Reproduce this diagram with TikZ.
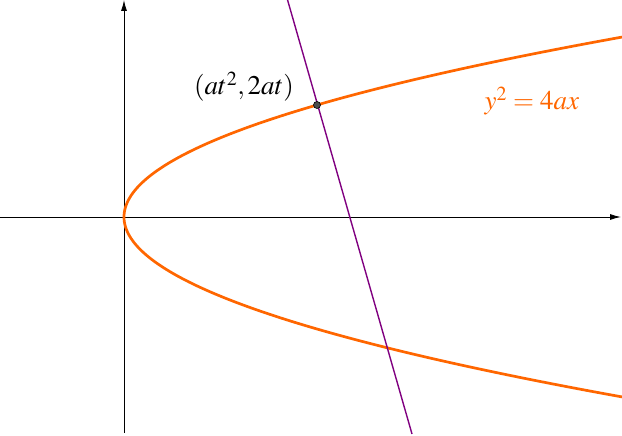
\documentclass[tikz,border=0pt]{standalone}
\usepackage{mathptmx}
\usetikzlibrary{arrows.meta}
\definecolor{parab}{HTML}{FF6600}
\definecolor{normalc}{HTML}{800080}
\tikzset{
  axis/.style={line width=0.9pt, -{Latex[length=11pt,width=6pt]}},
  curve/.style={parab, line width=2.7pt},
  normalline/.style={normalc, line width=1.4pt},
  pt/.style={circle, fill=black!70, draw=black, line width=0.6pt, inner sep=0pt, minimum size=7pt},
  lbl/.style={font=\fontsize{27}{31}\selectfont}
}
\begin{document}
\begin{tikzpicture}[x=1pt,y=1pt]
\useasboundingbox (0,0) rectangle (622,436);
\begin{scope}[shift={(124,219)}]
  \coordinate (xl) at (-124,0);
  \coordinate (xr) at (497,0);
  \coordinate (yb) at (0,-216);
  \coordinate (yt) at (0,217);
  \draw[axis] (xl) -- (xr);
  \draw[axis] (yb) -- (yt);
  \draw[curve] plot[domain=-182:181, samples=200, smooth, variable=\t] ({\t/65*\t},{\t});
  \coordinate (nt) at (163,219);
  \coordinate (nb) at (288,-217);
  \draw[normalline] (nt) -- (nb);
  \node[pt] (P) at (193,112) {};
  \node[lbl, anchor=base] (pl) at (120,122) {$(at^2, 2at)$};
  \node[lbl, anchor=base, text=parab] (el) at (408,107) {$y^2 = 4ax$};
\end{scope}
\end{tikzpicture}
\end{document}
